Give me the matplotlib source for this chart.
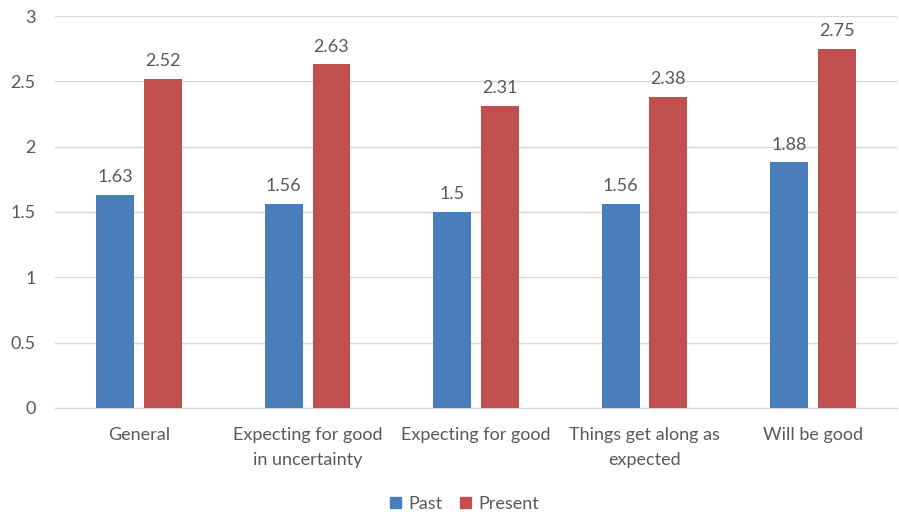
import numpy as np
import matplotlib.pyplot as plt
from matplotlib.patches import Patch

plt.rcParams['font.family'] = ['Lato', 'DejaVu Sans']

categories = ['General', 'Expecting for good\nin uncertainty', 'Expecting for good',
              'Things get along as\nexpected', 'Will be good']
past = [1.63, 1.56, 1.5, 1.56, 1.88]
present = [2.52, 2.63, 2.31, 2.38, 2.75]
yticks = [0, 0.5, 1, 1.5, 2, 2.5, 3]

blue = '#4A7EBB'
red = '#C0504D'
grey = '#595959'

fig = plt.figure(figsize=(8.99, 5.17), dpi=100)
ax = fig.add_axes([0.061, 0.211, 0.937, 0.758])

x = np.arange(len(categories))
w = 0.225
off = 0.142
b1 = ax.bar(x - off, past, w, color=blue, zorder=3)
b2 = ax.bar(x + off, present, w, color=red, zorder=3)

for bars, vals in ((b1, past), (b2, present)):
    for r, v in zip(bars, vals):
        ax.annotate(f'{v:g}', (r.get_x() + r.get_width() / 2, v),
                    xytext=(0, 7), textcoords='offset points',
                    ha='center', va='bottom', fontsize=13, color=grey)

ax.set_xlim(-0.5, len(categories) - 0.5)
ax.set_ylim(0, 3)
ax.set_yticks(yticks)
ax.set_yticklabels([f'{t:g}' for t in yticks])
ax.set_xticks(x)
ax.set_xticklabels(categories, linespacing=1.65)
ax.tick_params(axis='both', length=0, labelsize=13, labelcolor=grey)
ax.tick_params(axis='x', pad=14)
ax.tick_params(axis='y', pad=14)
ax.grid(axis='y', color='#D9D9D9', linewidth=1, zorder=0)
for s in ['top', 'right', 'left']:
    ax.spines[s].set_visible(False)
ax.spines['bottom'].set_color('#D9D9D9')

handles = [Patch(color=blue, label='Past'), Patch(color=red, label='Present')]
fig.legend(handles=handles, loc='center', bbox_to_anchor=(0.517, 0.025), ncol=2,
           frameon=False, fontsize=13, labelcolor=grey, handlelength=0.6,
           handleheight=0.6, handletextpad=0.4, columnspacing=1.0)

fig.savefig('out.png', dpi=100)
